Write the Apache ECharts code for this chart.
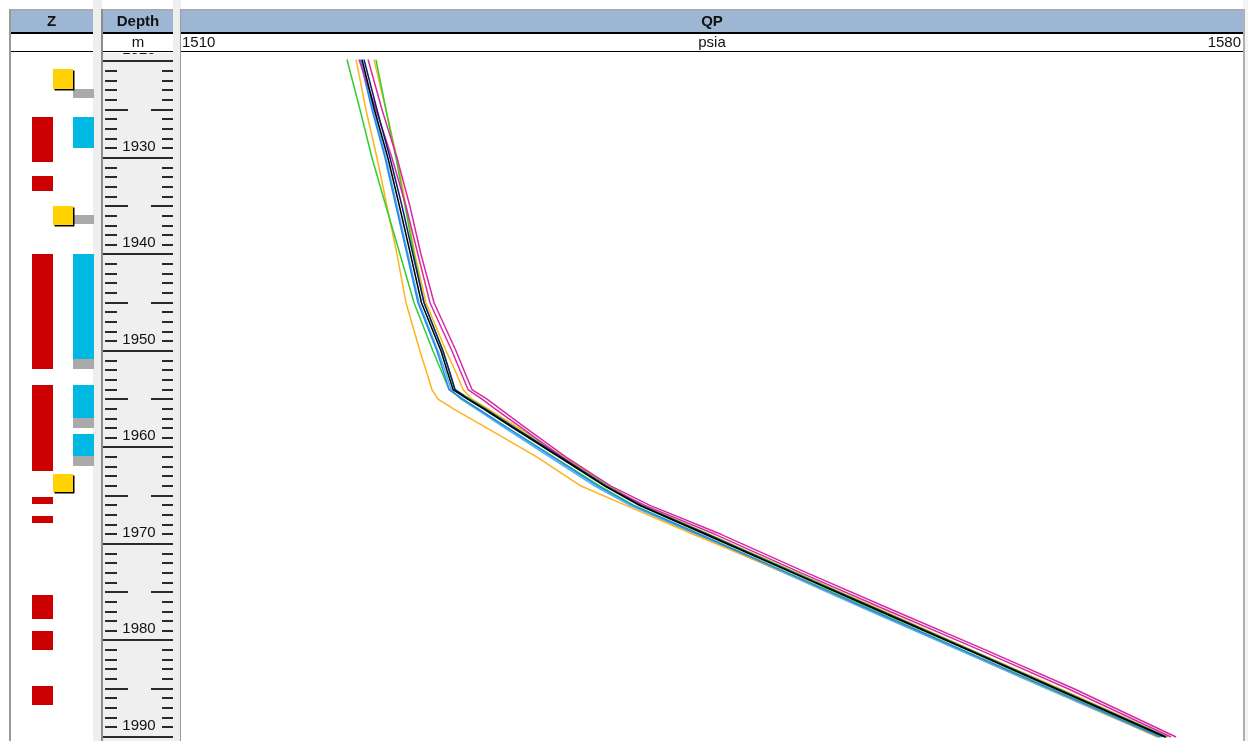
<!DOCTYPE html>
<html>
<head>
<meta charset="utf-8">
<script src="https://cdn.jsdelivr.net/npm/echarts@6/dist/echarts.min.js"></script>
<style>
html,body{margin:0;padding:0;background:#fff;}
#chart{width:1248px;height:741px;}
</style>
</head>
<body>
<div id="chart"></div>
<script>
// ---------------- DATA ----------------
const depthRange = [1919.12, 1990.42];
const qpScale = [1510, 1580];
const qpUnit = 'psia';
const depthUnit = 'm';
const depthLabels = [1920, 1930, 1940, 1950, 1960, 1970, 1980, 1990];
const trackTitles = ['Z', 'Depth', 'QP'];

// shared depth nodes (m) for the QP curves
const depthNodes = [1919.8, 1925, 1930, 1935, 1940, 1945, 1950, 1952, 1954, 1955, 1956, 1958, 1961, 1964, 1966, 1969, 1973, 1977, 1981, 1985, 1990];

const qpLightBlue = [1521.86, 1522.66, 1523.51, 1524.24, 1524.96, 1525.69, 1526.94, 1527.40, 1527.80, 1528.46, 1529.45, 1531.36, 1534.32, 1537.29, 1539.60, 1543.95, 1549.75, 1555.48, 1561.28, 1567.08, 1574.40];
const qpOrangeA   = [1521.54, 1522.19, 1522.92, 1523.58, 1524.24, 1524.83, 1525.75, 1526.15, 1526.54, 1526.94, 1527.96, 1530.17, 1533.47, 1536.37, 1539.33, 1543.75, 1549.88, 1555.68, 1561.48, 1567.21, 1574.40];
const qpGreenA    = [1520.94, 1521.80, 1522.59, 1523.51, 1524.44, 1525.36, 1526.61, 1527.14, 1527.67, 1528.52, 1529.58, 1531.55, 1534.59, 1537.62, 1539.86, 1544.21, 1550.01, 1555.81, 1561.55, 1567.35, 1574.66];
const qpBlue      = [1521.80, 1522.59, 1523.45, 1524.17, 1524.90, 1525.62, 1526.87, 1527.27, 1527.67, 1528.59, 1529.58, 1531.55, 1534.52, 1537.49, 1539.79, 1544.14, 1549.94, 1555.68, 1561.48, 1567.28, 1574.53];
const qpOrangeB   = [1522.72, 1523.51, 1524.24, 1524.83, 1525.42, 1526.15, 1527.47, 1528.06, 1528.59, 1529.18, 1530.24, 1532.28, 1535.25, 1538.21, 1540.45, 1544.80, 1550.60, 1556.40, 1562.14, 1567.94, 1575.06];
const qpGreenB    = [1522.85, 1523.51, 1524.17, 1524.77, 1525.36, 1526.02, 1527.27, 1527.67, 1528.06, 1529.05, 1530.10, 1532.08, 1535.11, 1538.15, 1540.39, 1544.74, 1550.54, 1556.27, 1562.07, 1567.81, 1574.99];
const qpMagentaB  = [1521.73, 1522.85, 1523.91, 1524.83, 1525.62, 1526.41, 1527.86, 1528.39, 1528.92, 1529.84, 1530.70, 1532.48, 1535.11, 1538.01, 1540.58, 1545.20, 1550.87, 1556.73, 1562.67, 1568.47, 1575.26];
const qpMagentaA  = [1522.33, 1523.25, 1524.24, 1525.09, 1525.82, 1526.68, 1528.13, 1528.65, 1529.18, 1530.17, 1531.03, 1532.74, 1535.38, 1538.34, 1540.91, 1545.59, 1551.26, 1557.13, 1563.06, 1568.86, 1575.59];
const qpNavy      = [1522.06, 1522.92, 1523.78, 1524.57, 1525.29, 1526.02, 1527.27, 1527.67, 1528.06, 1528.98, 1530.04, 1532.02, 1535.05, 1538.01, 1540.32, 1544.67, 1550.41, 1556.21, 1562.01, 1567.74, 1574.93];
const qpBlack     = [1521.93, 1522.75, 1523.64, 1524.40, 1525.13, 1525.85, 1527.14, 1527.53, 1527.93, 1528.89, 1529.94, 1531.91, 1534.93, 1537.94, 1540.21, 1544.55, 1550.32, 1556.10, 1561.88, 1567.65, 1574.86];

// Z track intervals [top, bottom] in m
const zRed    = [[1925.75, 1930.41], [1931.87, 1933.42], [1939.95, 1951.87], [1953.52, 1962.44], [1965.13, 1965.85], [1967.10, 1967.82], [1975.28, 1977.77], [1979.00, 1980.98], [1984.72, 1986.68]];
const zYellow = [[1920.78, 1922.85], [1934.97, 1936.94], [1962.75, 1964.61]];
const zCyan   = [[1925.75, 1928.96], [1939.95, 1950.83], [1953.52, 1956.94], [1958.60, 1960.93]];
const zGrey   = [[1922.85, 1923.78], [1935.91, 1936.84], [1950.83, 1951.87], [1956.94, 1957.98], [1960.93, 1961.97]];

// ---------------- CHART ----------------
const chart = echarts.init(document.getElementById('chart'), null, {renderer: 'canvas'});
const FONT = 'Liberation Sans';

const curveDefs = [
  {name: 'LightBlue', color: '#45b4f0', v: qpLightBlue},
  {name: 'OrangeA', color: '#ffb21c', v: qpOrangeA},
  {name: 'GreenA', color: '#2fcf2f', v: qpGreenA},
  {name: 'Blue', color: '#2a86f5', v: qpBlue},
  {name: 'OrangeB', color: '#ffb21c', v: qpOrangeB},
  {name: 'GreenB', color: '#2fcf2f', v: qpGreenB},
  {name: 'MagentaB', color: '#d62ba3', v: qpMagentaB},
  {name: 'MagentaA', color: '#d62ba3', v: qpMagentaA},
  {name: 'Navy', color: '#10206e', v: qpNavy},
  {name: 'Black', color: '#000000', v: qpBlack}
];

const lineSeries = curveDefs.map(c => ({
  name: c.name, type: 'line', xAxisIndex: 2, yAxisIndex: 2,
  data: c.v.map((p, i) => [p, depthNodes[i]]),
  showSymbol: false, symbol: 'none', smooth: false,
  lineStyle: {color: c.color, width: 1.5}, silent: true, z: 3
}));

function zSeries(list, col, color, yellow) {
  return {
    type: 'custom', xAxisIndex: 0, yAxisIndex: 0, clip: true,
    data: list.map(r => [col, r[0], r[1]]),
    encode: {x: 0, y: [1, 2]},
    renderItem: function (params, api) {
      const a = api.coord([api.value(0), api.value(1)]);
      const b = api.coord([api.value(0) + 1, api.value(2)]);
      const style = {fill: color};
      if (yellow) { style.shadowColor = '#000'; style.shadowOffsetX = 1.5; style.shadowOffsetY = 1.5; style.shadowBlur = 0; }
      return {type: 'rect', shape: {x: Math.round(a[0]), y: Math.round(a[1]), width: Math.round(b[0]) - Math.round(a[0]), height: Math.round(b[1]) - Math.round(a[1])}, style: style};
    }
  };
}

const tickDepths = [];
for (let d = Math.ceil(depthRange[0]) - 1; d <= Math.floor(depthRange[1]) + 1; d++) tickDepths.push(d);

const depthSeries = {
  type: 'custom', xAxisIndex: 1, yAxisIndex: 1, clip: true,
  data: tickDepths.map(d => [0.5, d]),
  encode: {x: 0, y: 1},
  renderItem: function (params, api) {
    const d = api.value(1);
    const pl = api.coord([0, d]), pr = api.coord([1, d]);
    const y = Math.round(pl[1]);
    const xl = pl[0], xr = pr[0];
    const st = {stroke: '#2a2a2a', lineWidth: 2};
    const ch = [];
    if (d % 10 === 0) {
      ch.push({type: 'line', shape: {x1: xl, y1: y, x2: xr, y2: y}, style: st});
    } else if (d % 5 === 0) {
      ch.push({type: 'line', shape: {x1: xl + 2, y1: y, x2: xl + 25, y2: y}, style: st});
      ch.push({type: 'line', shape: {x1: xr - 22, y1: y, x2: xr, y2: y}, style: st});
    } else {
      ch.push({type: 'line', shape: {x1: xl + 2, y1: y, x2: xl + 14, y2: y}, style: st});
      ch.push({type: 'line', shape: {x1: xr - 11, y1: y, x2: xr, y2: y}, style: st});
    }
    if (depthLabels.indexOf(d) >= 0) {
      ch.push({type: 'text', style: {text: String(d), x: (xl + xr) / 2 + 1, y: y - 11, align: 'center', verticalAlign: 'middle', fill: '#111', font: '15px ' + FONT}});
    }
    return {type: 'group', children: ch};
  }
};

const HDR = '#9db6d4';
const tracks = [
  {x0: 10, x1: 93, title: trackTitles[0]},
  {x0: 103, x1: 173, title: trackTitles[1]},
  {x0: 181, x1: 1243, title: trackTitles[2]}
];
const graphics = [];
// gap columns
graphics.push({type: 'rect', shape: {x: 93, y: 0, width: 9, height: 741}, style: {fill: '#eeeeee'}, z: -10});
graphics.push({type: 'rect', shape: {x: 173, y: 0, width: 8, height: 741}, style: {fill: '#eeeeee'}, z: -10});
graphics.push({type: 'rect', shape: {x: 1243, y: 0, width: 5, height: 741}, style: {fill: '#f4f4f4'}, z: -10});
// header bands
tracks.forEach(t => {
  graphics.push({type: 'rect', shape: {x: t.x0, y: 10, width: t.x1 - t.x0, height: 23}, style: {fill: HDR}, z: -5});
  graphics.push({type: 'rect', shape: {x: t.x0, y: 9, width: t.x1 - t.x0, height: 1.5}, style: {fill: '#a8a8a8'}, z: -4});
  graphics.push({type: 'rect', shape: {x: t.x0, y: 32, width: t.x1 - t.x0, height: 2}, style: {fill: '#000'}, z: -4});
  graphics.push({type: 'rect', shape: {x: t.x0, y: 34, width: t.x1 - t.x0, height: 17}, style: {fill: '#fff'}, z: -5});
  graphics.push({type: 'rect', shape: {x: t.x0, y: 51, width: t.x1 - t.x0, height: 1}, style: {fill: '#000'}, z: -4});
  graphics.push({type: 'text', style: {text: t.title, x: (t.x0 + t.x1) / 2, y: 22, align: 'center', verticalAlign: 'middle', fill: '#111', font: 'bold 15px ' + FONT}, z: 5});
});
// vertical borders
graphics.push({type: 'rect', shape: {x: 9, y: 9, width: 2, height: 732}, style: {fill: '#9a9a9a'}, z: 6});
graphics.push({type: 'rect', shape: {x: 101, y: 9, width: 2, height: 732}, style: {fill: '#8c8c8c'}, z: 6});
graphics.push({type: 'rect', shape: {x: 180, y: 9, width: 1, height: 732}, style: {fill: '#9a9a9a'}, z: 6});
graphics.push({type: 'rect', shape: {x: 1243, y: 9, width: 2, height: 732}, style: {fill: '#b0b0b0'}, z: 6});
// second header row texts
graphics.push({type: 'text', style: {text: depthUnit, x: 138, y: 43, align: 'center', verticalAlign: 'middle', fill: '#111', font: '15px ' + FONT}, z: 5});
graphics.push({type: 'text', style: {text: String(qpScale[0]), x: 182, y: 43, align: 'left', verticalAlign: 'middle', fill: '#111', font: '15px ' + FONT}, z: 5});
graphics.push({type: 'text', style: {text: qpUnit, x: 712, y: 43, align: 'center', verticalAlign: 'middle', fill: '#111', font: '15px ' + FONT}, z: 5});
graphics.push({type: 'text', style: {text: String(qpScale[1]), x: 1241, y: 43, align: 'right', verticalAlign: 'middle', fill: '#111', font: '15px ' + FONT}, z: 5});

const yBase = {type: 'value', inverse: true, min: depthRange[0], max: depthRange[1], show: false};

chart.setOption({
  animation: false,
  backgroundColor: '#ffffff',
  grid: [
    {left: 32, top: 53, width: 61.5, bottom: 0, show: false},
    {left: 103, top: 53, width: 70, bottom: 0, show: true, backgroundColor: '#efefef', borderWidth: 0},
    {left: 181, top: 53, width: 1062, bottom: 0, show: false}
  ],
  xAxis: [
    {type: 'value', gridIndex: 0, min: 0, max: 3, show: false},
    {type: 'value', gridIndex: 1, min: 0, max: 1, show: false},
    {type: 'value', gridIndex: 2, min: qpScale[0], max: qpScale[1], show: false}
  ],
  yAxis: [
    Object.assign({gridIndex: 0}, yBase),
    Object.assign({gridIndex: 1}, yBase),
    Object.assign({gridIndex: 2}, yBase)
  ],
  graphic: {elements: graphics},
  series: [
    zSeries(zRed, 0, '#cc0000', false),
    zSeries(zCyan, 2, '#00b9e2', false),
    zSeries(zGrey, 2, '#aaaaaa', false),
    zSeries(zYellow, 1, '#ffd200', true),
    depthSeries
  ].concat(lineSeries)
});
</script>
</body>
</html>
